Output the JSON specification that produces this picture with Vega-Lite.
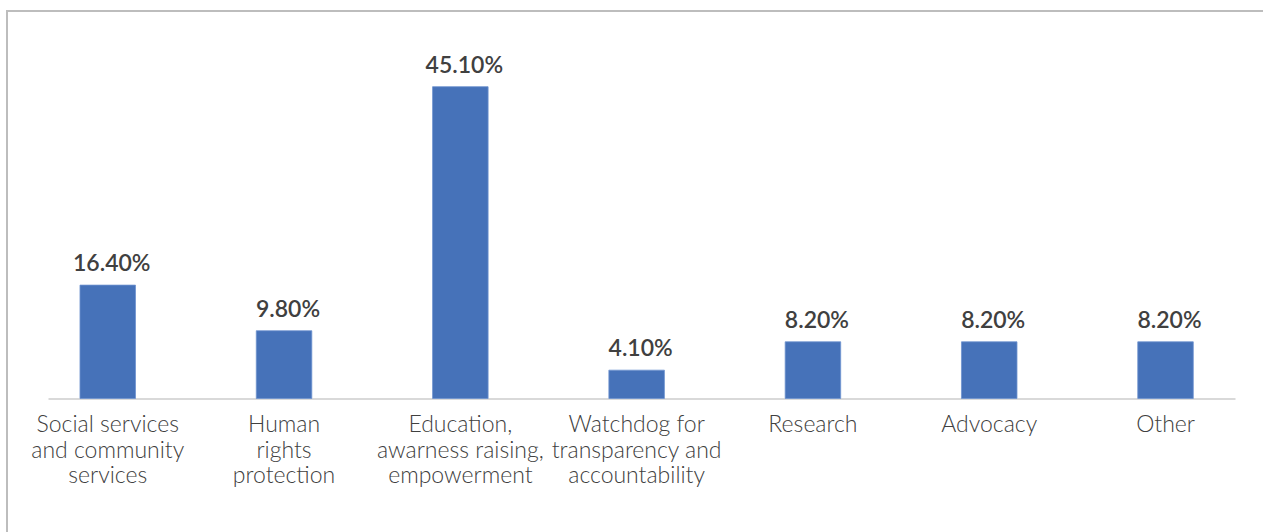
{
  "$schema": "https://vega.github.io/schema/vega-lite/v6.json",
  "autosize": {"type": "none"},
  "padding": {"left": 7, "top": 11, "right": 0, "bottom": 0},
  "width": 1258,
  "height": 524,
  "background": "white",
  "config": {
    "view": {"stroke": "#bdbdbd", "strokeWidth": 2},
    "font": "Lato"
  },
  "data": {
    "values": [
      {"category": "Social services and community services", "share": 0.164},
      {"category": "Human rights protection", "share": 0.098},
      {"category": "Education, awarness raising, empowerment", "share": 0.451},
      {"category": "Watchdog for transparency and accountability", "share": 0.041},
      {"category": "Research", "share": 0.082},
      {"category": "Advocacy", "share": 0.082},
      {"category": "Other", "share": 0.082}
    ]
  },
  "encoding": {
    "x": {
      "field": "category",
      "type": "nominal",
      "sort": null,
      "scale": {"range": [41, 1228], "paddingInner": 0.685, "paddingOuter": 0.209, "align": 0.434},
      "axis": {
        "title": null,
        "orient": "bottom",
        "offset": -136.5,
        "domainColor": "#d9d9d9",
        "domainWidth": 2,
        "ticks": false,
        "labelAngle": 0,
        "labelFont": "Lato",
        "labelFontSize": 23,
        "labelFontWeight": 300,
        "labelColor": "#404040",
        "labelPadding": 15,
        "labelLineHeight": 25.5,
        "labelLimit": 400,
        "labelOverlap": false,
        "labelExpr": "datum.value == 'Social services and community services' ? ['Social services', 'and community', 'services'] : datum.value == 'Human rights protection' ? ['Human', 'rights', 'protection'] : datum.value == 'Education, awarness raising, empowerment' ? ['Education,', 'awarness raising,', 'empowerment'] : datum.value == 'Watchdog for transparency and accountability' ? ['Watchdog for', 'transparency and', 'accountability'] : datum.value"
      }
    },
    "y": {
      "field": "share",
      "type": "quantitative",
      "scale": {"domain": [0, 0.5], "range": [387.5, 41.8], "nice": false},
      "axis": null
    }
  },
  "layer": [
    {
      "mark": {"type": "bar", "color": "#4672b9", "stroke": "#6f93cf", "strokeWidth": 0.8}
    },
    {
      "mark": {"type": "text", "baseline": "alphabetic", "dy": -14, "dx": 4, "fontSize": 23, "fontWeight": 600, "color": "#404040", "font": "Lato"},
      "encoding": {
        "text": {"field": "share", "type": "quantitative", "format": ".2%"}
      }
    }
  ]
}
